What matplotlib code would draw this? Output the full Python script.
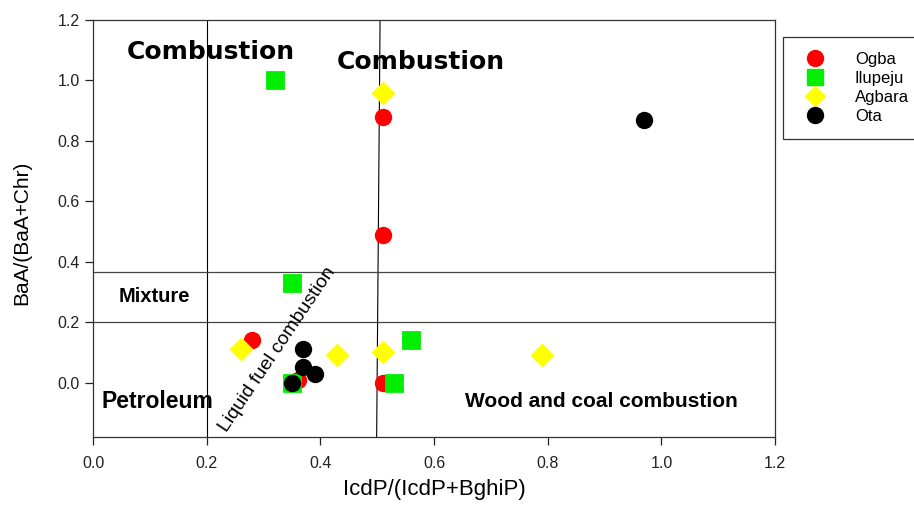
import matplotlib
matplotlib.use("Agg")
import matplotlib.pyplot as plt
from matplotlib.lines import Line2D
import numpy as np

# sample sites and their ratio values (x = IcdP/(IcdP+BghiP), y = BaA/(BaA+Chr))
sites = ["Ogba", "Ilupeju", "Agbara", "Ota"]
ogba_x = [0.51, 0.51, 0.28, 0.36, 0.51]
ogba_y = [0.88, 0.49, 0.14, 0.01, 0.00]
ilupeju_x = [0.32, 0.35, 0.56, 0.35, 0.53]
ilupeju_y = [1.00, 0.33, 0.14, 0.00, 0.00]
agbara_x = [0.51, 0.26, 0.43, 0.51, 0.79]
agbara_y = [0.96, 0.11, 0.09, 0.10, 0.09]
ota_x = [0.97, 0.37, 0.37, 0.39, 0.35]
ota_y = [0.87, 0.11, 0.05, 0.03, 0.00]

# source boundaries
bound_x_low = 0.2
bound_x_high = (0.505, 0.499)
bound_y_mix = 0.365
bound_y_pet = 0.2

plt.rcParams["font.family"] = ["Liberation Sans", "DejaVu Sans"]

fig = plt.figure(figsize=(9.14, 5.09), dpi=100)
ax = fig.add_axes([0.1018, 0.1415, 0.7462, 0.8192])

xmin, xmax = 0.0, 1.2
ymin, ymax = -0.18, 1.2

# boundary lines
ax.plot([bound_x_low, bound_x_low], [ymin, ymax], color="black", lw=0.8, zorder=1)
ax.plot(list(bound_x_high), [ymax, ymin], color="black", lw=0.8, zorder=1)
ax.plot([xmin, xmax], [bound_y_mix, bound_y_mix], color="#444444", lw=0.9, zorder=1)
ax.plot([xmin, xmax], [bound_y_pet, bound_y_pet], color="#444444", lw=0.9, zorder=1)

ms = 12.5
ax.plot(ogba_x, ogba_y, "o", ms=ms, color="#ff0000", mec="none", zorder=3)
ax.plot(ilupeju_x, ilupeju_y, "s", ms=ms - 1, color="#00ee00", mec="#00ee00",
        mew=2, mfc="#00ee00", zorder=3)
ax.plot(agbara_x, agbara_y, "D", ms=ms - 2.5, color="#ffff00", mec="#ffff00",
        mew=2, zorder=3)
ax.plot(ota_x, ota_y, "o", ms=ms, color="black", mec="none", zorder=4)

# zone labels
ax.text(0.06, 1.093, "Combustion", fontsize=18, fontweight="bold", va="center",
        family="DejaVu Sans")
ax.text(0.576, 1.061, "Combustion", fontsize=18, fontweight="bold", va="center",
        ha="center", family="DejaVu Sans")
ax.text(0.045, 0.285, "Mixture", fontsize=14.5, fontweight="bold", va="center")
ax.text(0.015, -0.062, "Petroleum", fontsize=16.5, fontweight="bold", va="center")
ax.text(0.895, -0.062, "Wood and coal combustion", fontsize=15, fontweight="bold",
        va="center", ha="center")
ax.text(0.325, 0.11, "Liquid fuel combustion", fontsize=14, rotation=56,
        va="center", ha="center", fontweight="medium")

ax.set_xlim(xmin, xmax)
ax.set_ylim(ymin, ymax)
ax.set_xticks(np.arange(0, 1.21, 0.2))
ax.set_yticks(np.arange(0, 1.21, 0.2))
ax.xaxis.set_major_formatter(matplotlib.ticker.FormatStrFormatter("%.1f"))
ax.yaxis.set_major_formatter(matplotlib.ticker.FormatStrFormatter("%.1f"))
ax.tick_params(direction="out", length=6, width=0.9, labelsize=11.5, colors="#222222")
ax.tick_params(axis="x", pad=8)
for s in ax.spines.values():
    s.set_linewidth(0.9)
    s.set_color("#333333")

ax.set_xlabel("IcdP/(IcdP+BghiP)", fontsize=16)
ax.xaxis.set_label_coords(0.5, -0.1)
ax.set_ylabel("BaA/(BaA+Chr)", fontsize=15)
ax.yaxis.set_label_coords(-0.09, 0.49)

handles = [
    Line2D([], [], ls="none", marker="o", ms=ms, color="#ff0000", mec="none"),
    Line2D([], [], ls="none", marker="s", ms=ms - 1, color="#00ee00"),
    Line2D([], [], ls="none", marker="D", ms=ms - 2.5, color="#ffff00"),
    Line2D([], [], ls="none", marker="o", ms=ms, color="black", mec="none"),
]
leg = fig.legend(handles, sites, loc="upper left", bbox_to_anchor=(0.857, 0.928),
                 frameon=True, fancybox=False, fontsize=12, borderpad=0.9,
                 labelspacing=0.25, handletextpad=1.4, borderaxespad=0)
leg.get_frame().set_edgecolor("black")
leg.get_frame().set_linewidth(0.9)

fig.savefig("out.png", dpi=100)
